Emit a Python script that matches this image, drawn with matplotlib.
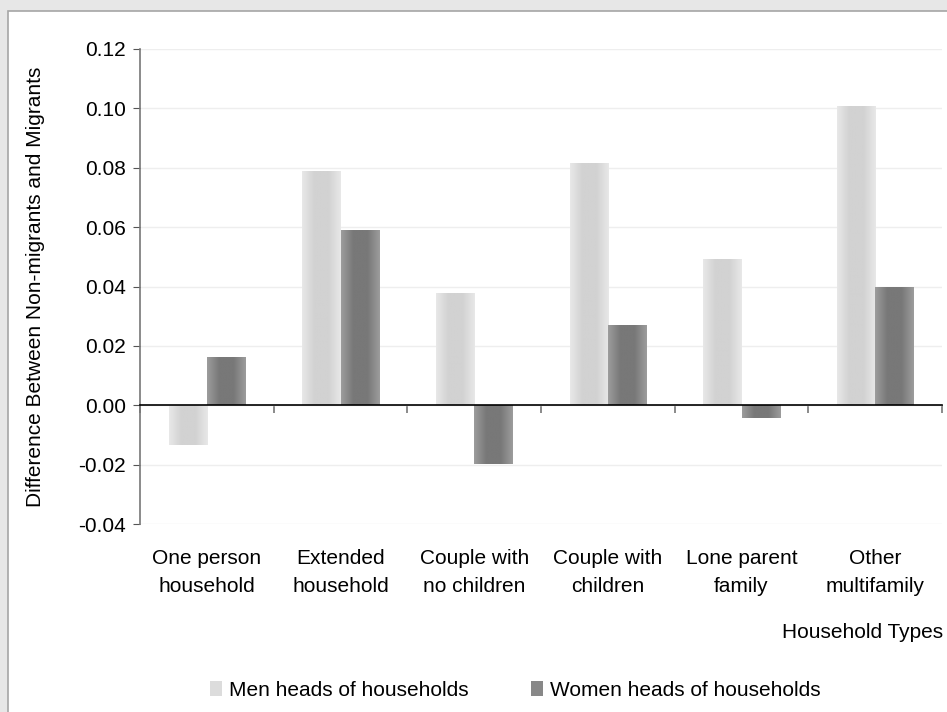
import numpy as np
import matplotlib
matplotlib.use("Agg")
import matplotlib.pyplot as plt
from matplotlib.patches import Rectangle

plt.rcParams['font.family'] = ['Liberation Sans', 'DejaVu Sans']

categories = ["One person\nhousehold", "Extended\nhousehold", "Couple with\nno children",
              "Couple with\nchildren", "Lone parent\nfamily", "Other\nmultifamily"]
men = [-0.0135, 0.0788, 0.0377, 0.0815, 0.0492, 0.1007]
women = [0.0162, 0.0589, -0.0199, 0.0269, -0.0044, 0.0397]
series_names = ["Men heads of households", "Women heads of households"]
yticks = [-0.04, -0.02, 0.00, 0.02, 0.04, 0.06, 0.08, 0.10, 0.12]

FS = 15

fig = plt.figure(figsize=(9.47, 7.12), dpi=100)
fig.patch.set_facecolor("#e7e7e7")
fig.patches.append(Rectangle((8 / 947, -0.01), 1.0, 1 - 11 / 712 + 0.01, transform=fig.transFigure,
                             facecolor="white", edgecolor="#a6a6a6", linewidth=1.2, zorder=-5))

ax = fig.add_axes([140 / 947, 1 - 524 / 712, (942 - 140) / 947, (524 - 49) / 712])
ax.set_facecolor("none")

x = np.arange(len(categories))
w = 0.285


def gradient_fill(bars, edge, center):
    e = np.array(matplotlib.colors.to_rgb(edge))
    c = np.array(matplotlib.colors.to_rgb(center))
    t = np.linspace(0, 1, 64)
    prof = 1 - np.abs(t - 0.5) * 2
    prof = np.clip(prof * 1.6, 0, 1)
    cols = e[None, :] * (1 - prof[:, None]) + c[None, :] * prof[:, None]
    img = cols[None, :, :]
    for b in bars:
        x0, y0 = b.get_x(), b.get_y()
        bw, bh = b.get_width(), b.get_height()
        im = ax.imshow(img, extent=[x0, x0 + bw, min(y0, y0 + bh), max(y0, y0 + bh)],
                       aspect="auto", zorder=3, interpolation="bilinear")
        im.set_clip_path(b)


b1 = ax.bar(x - w / 2, men, w, color="#dcdcdc", zorder=2, linewidth=0)
b2 = ax.bar(x + w / 2, women, w, color="#888888", zorder=2, linewidth=0)
gradient_fill(b1, "#e8e8e8", "#d2d2d2")
gradient_fill(b2, "#9c9c9c", "#787878")

ax.set_xlim(-0.5, len(categories) - 0.5)
ax.set_ylim(-0.04, 0.12)
ax.set_yticks(yticks)
ax.set_yticklabels([f"{v:.2f}" for v in yticks], fontsize=FS)
ax.yaxis.grid(True, color="#eeeeee", linewidth=1.0, zorder=0)
ax.set_axisbelow(True)
ax.tick_params(axis="y", direction="out", length=5, color="#555555", pad=5)

for s in ["top", "right"]:
    ax.spines[s].set_visible(False)
ax.spines["left"].set_color("#777777")
ax.spines["left"].set_linewidth(1.2)
ax.spines["bottom"].set_position(("data", 0))
ax.spines["bottom"].set_color("black")
ax.spines["bottom"].set_linewidth(1.2)
ax.spines["bottom"].set_zorder(5)

ax.set_xticks(np.arange(-0.5, len(categories), 1.0))
ax.set_xticklabels([])
ax.tick_params(axis="x", direction="out", length=6, color="#777777", width=1.2)

sec = ax.secondary_xaxis(0)
sec.set_xticks(x)
sec.set_xticklabels(categories, fontsize=FS, linespacing=1.6)
sec.tick_params(length=0, pad=18)
sec.spines["bottom"].set_visible(False)

ax.set_ylabel("Difference Between Non-migrants and Migrants", fontsize=FS, labelpad=24)
fig.text(943 / 947, 1 - 633 / 712, "Household Types", ha="right", va="center", fontsize=FS)

leg = fig.legend([b1, b2], series_names, loc="center", bbox_to_anchor=(515 / 947, 1 - 690 / 712),
                 ncol=2, frameon=False, fontsize=FS, handlelength=0.6, handleheight=0.7,
                 handletextpad=0.3, columnspacing=3.0)
leg.legend_handles[0].set_facecolor("#dcdcdc")
leg.legend_handles[1].set_facecolor("#888888")

fig.savefig("out.png", dpi=100, facecolor=fig.get_facecolor())
